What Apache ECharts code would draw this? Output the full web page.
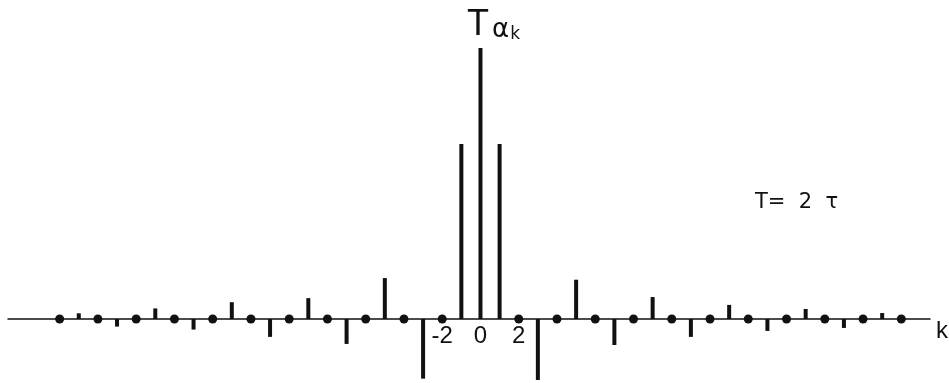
<!DOCTYPE html>
<html>
<head>
<meta charset="utf-8">
<script src="https://cdn.jsdelivr.net/npm/echarts@6/dist/echarts.min.js"></script>
<style>html,body{margin:0;padding:0;background:#fff}#c{width:949px;height:383px}</style>
</head>
<body>
<div id="c"></div>
<script>
// Nonzero coefficients T*a_k (relative to k = 0)
const barK = [-21, -19, -17, -15, -13, -11, -9, -7, -5, -3, -1, 0, 1, 3, 5, 7, 9, 11, 13, 15, 17, 19, 21];
const barVal = [0.021, -0.028, 0.039, -0.039, 0.062, -0.066, 0.077, -0.092, 0.151, -0.22, 0.646, 1.0,
                0.646, -0.225, 0.145, -0.096, 0.081, -0.066, 0.052, -0.044, 0.037, -0.033, 0.022];
// Zero-valued coefficients (drawn as dots)
const dotK = [-22, -20, -18, -16, -14, -12, -10, -8, -6, -4, -2, 2, 4, 6, 8, 10, 12, 14, 16, 18, 20, 22];
const dotVal = dotK.map(() => 0);
const tickLabels = [-2, 0, 2];

const chart = echarts.init(document.getElementById('c'), null, {renderer: 'canvas'});
const ink = '#111';
chart.setOption({
  animation: false,
  backgroundColor: '#fff',
  title: [
    {
      text: '{t|T}{a|α}{k|k}',
      left: 462, top: 2,
      textStyle: {
        fontWeight: 'normal',
        rich: {
          t: {fontFamily: 'Liberation Sans', fontSize: 36, color: ink, fontWeight: 'normal', verticalAlign: 'bottom'},
          a: {fontFamily: 'DejaVu Sans', fontSize: 26, color: ink, fontWeight: 'normal', verticalAlign: 'bottom', padding: [0, 0, 0, 3]},
          k: {fontFamily: 'DejaVu Sans', fontSize: 17, color: ink, fontWeight: 'normal', verticalAlign: 'bottom', padding: [0, 0, 0, 1]}
        }
      }
    },
    {
      text: 'T=  2  τ',
      left: 750, top: 187,
      textStyle: {fontFamily: 'DejaVu Sans', fontSize: 21, fontWeight: 'normal', color: ink}
    }
  ],
  grid: {left: 8, right: 19, top: 48, bottom: 64, containLabel: false, outerBoundsMode: 'none'},
  xAxis: {
    type: 'value',
    min: -24.7, max: 23.5,
    position: 'bottom',
    name: 'k',
    nameLocation: 'end',
    nameGap: 6,
    nameTextStyle: {fontFamily: 'Liberation Sans', fontSize: 24, color: ink, align: 'left', verticalAlign: 'top', padding: [0, 0, 0, 0]},
    axisLine: {show: true, onZero: false, lineStyle: {color: ink, width: 1.5}},
    axisTick: {show: false},
    splitLine: {show: false},
    axisLabel: {
      customValues: tickLabels,
      formatter: v => String(v),
      fontFamily: 'Liberation Sans',
      fontSize: 24,
      color: ink,
      margin: 5
    }
  },
  yAxis: {
    type: 'value', min: 0, max: 1.0,
    show: false, splitLine: {show: false}
  },
  series: [
    {
      type: 'bar',
      data: barK.map((k, i) => [k, barVal[i]]),
      barWidth: 4,
      itemStyle: {color: ink},
      clip: false
    },
    {
      type: 'scatter',
      data: dotK.map((k, i) => [k, dotVal[i]]),
      symbol: 'circle',
      symbolSize: 9,
      itemStyle: {color: ink, opacity: 1},
      clip: false,
      z: 3
    }
  ]
});
</script>
</body>
</html>
